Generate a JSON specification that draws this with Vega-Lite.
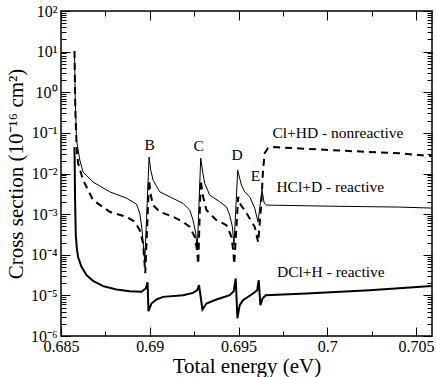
{
  "$schema": "https://vega.github.io/schema/vega-lite/v6.json",
  "width": 371,
  "height": 325,
  "autosize": {"type": "none"},
  "padding": {"left": 61, "top": 11, "right": 4, "bottom": 41},
  "background": "white",
  "config": {
    "view": {"stroke": "black", "strokeWidth": 1.5},
    "axis": {"domain": false, "grid": false, "tickColor": "black", "tickWidth": 1, "labelColor": "black", "titleColor": "black", "labelFont": "Liberation Serif", "titleFont": "Liberation Serif", "titleFontWeight": "normal", "labelFontSize": 16, "titleFontSize": 21, "labelOverlap": false, "labelFlush": false},
    "text": {"font": "Liberation Serif", "fontSize": 15.5, "color": "black"}
  },
  "datasets": {
    "hcl": [
      {"energy": 0.68576, "sigma": 10.3}, {"energy": 0.685805, "sigma": 0.64}, {"energy": 0.685873, "sigma": 0.0665}, {"energy": 0.686059, "sigma": 0.0214}, {"energy": 0.686244, "sigma": 0.0108}, {"energy": 0.686807, "sigma": 0.00614}, {"energy": 0.687748, "sigma": 0.00354}, {"energy": 0.688688, "sigma": 0.00248}, {"energy": 0.689251, "sigma": 0.00176}, {"energy": 0.689437, "sigma": 0.00106}, {"energy": 0.689566, "sigma": 0.000404}, {"energy": 0.689718, "sigma": 0.000066}, {"energy": 0.689961, "sigma": 0.0254}, {"energy": 0.690056, "sigma": 0.0121}, {"energy": 0.690186, "sigma": 0.00688}, {"energy": 0.690563, "sigma": 0.00354}, {"energy": 0.691312, "sigma": 0.00244}, {"energy": 0.691875, "sigma": 0.00184}, {"energy": 0.692252, "sigma": 0.00126}, {"energy": 0.692438, "sigma": 0.000712}, {"energy": 0.69259, "sigma": 0.00034}, {"energy": 0.692675, "sigma": 0.00013}, {"energy": 0.692872, "sigma": 0.0239}, {"energy": 0.692984, "sigma": 0.0108}, {"energy": 0.693097, "sigma": 0.0057}, {"energy": 0.693378, "sigma": 0.00294}, {"energy": 0.693941, "sigma": 0.00201}, {"energy": 0.694319, "sigma": 0.00151}, {"energy": 0.694504, "sigma": 0.000944}, {"energy": 0.694656, "sigma": 0.000486}, {"energy": 0.694746, "sigma": 0.000172}, {"energy": 0.694955, "sigma": 0.0121}, {"energy": 0.695163, "sigma": 0.00518}, {"energy": 0.695349, "sigma": 0.00354}, {"energy": 0.695631, "sigma": 0.00267}, {"energy": 0.695912, "sigma": 0.00141}, {"energy": 0.696098, "sigma": 0.000635}, {"energy": 0.696323, "sigma": 0.0039}, {"energy": 0.696447, "sigma": 0.00187}, {"energy": 0.696588, "sigma": 0.00167}, {"energy": 0.700135, "sigma": 0.00157}, {"energy": 0.704077, "sigma": 0.00149}, {"energy": 0.705879, "sigma": 0.00141}
    ],
    "clhd": [
      {"energy": 0.68576, "sigma": 10.3}, {"energy": 0.685805, "sigma": 0.365}, {"energy": 0.68589, "sigma": 0.0377}, {"energy": 0.685963, "sigma": 0.018}, {"energy": 0.686244, "sigma": 0.00688}, {"energy": 0.686807, "sigma": 0.00221}, {"energy": 0.687748, "sigma": 0.00114}, {"energy": 0.688688, "sigma": 0.000858}, {"energy": 0.689155, "sigma": 0.000646}, {"energy": 0.689437, "sigma": 0.000404}, {"energy": 0.689623, "sigma": 0.000193}, {"energy": 0.689747, "sigma": 0.0000352}, {"energy": 0.689961, "sigma": 0.00688}, {"energy": 0.690056, "sigma": 0.00294}, {"energy": 0.690186, "sigma": 0.00167}, {"energy": 0.690563, "sigma": 0.00114}, {"energy": 0.691312, "sigma": 0.000858}, {"energy": 0.691875, "sigma": 0.000646}, {"energy": 0.692252, "sigma": 0.000486}, {"energy": 0.692534, "sigma": 0.000276}, {"energy": 0.692663, "sigma": 0.00013}, {"energy": 0.692731, "sigma": 0.0000586}, {"energy": 0.692872, "sigma": 0.00688}, {"energy": 0.692984, "sigma": 0.00294}, {"energy": 0.693193, "sigma": 0.00126}, {"energy": 0.693756, "sigma": 0.000712}, {"energy": 0.694319, "sigma": 0.000536}, {"energy": 0.6946, "sigma": 0.000276}, {"energy": 0.694702, "sigma": 0.00013}, {"energy": 0.694758, "sigma": 0.0000586}, {"energy": 0.694983, "sigma": 0.00267}, {"energy": 0.695124, "sigma": 0.00167}, {"energy": 0.695349, "sigma": 0.00126}, {"energy": 0.695631, "sigma": 0.000784}, {"energy": 0.695912, "sigma": 0.000486}, {"energy": 0.696109, "sigma": 0.000204}, {"energy": 0.696289, "sigma": 0.00187}, {"energy": 0.69638, "sigma": 0.0121}, {"energy": 0.696475, "sigma": 0.0318}, {"energy": 0.696661, "sigma": 0.0423}, {"energy": 0.697038, "sigma": 0.0447}, {"energy": 0.700135, "sigma": 0.0377}, {"energy": 0.704077, "sigma": 0.0313}, {"energy": 0.705879, "sigma": 0.0269}
    ],
    "dcl": [
      {"energy": 0.68576, "sigma": 0.0447}, {"energy": 0.685794, "sigma": 0.00221}, {"energy": 0.685833, "sigma": 0.000304}, {"energy": 0.68589, "sigma": 0.000146}, {"energy": 0.685963, "sigma": 0.0000874}, {"energy": 0.686154, "sigma": 0.0000504}, {"energy": 0.686436, "sigma": 0.0000315}, {"energy": 0.686807, "sigma": 0.0000228}, {"energy": 0.68737, "sigma": 0.0000169}, {"energy": 0.688125, "sigma": 0.000014}, {"energy": 0.688874, "sigma": 0.0000127}, {"energy": 0.689533, "sigma": 0.0000123}, {"energy": 0.689775, "sigma": 0.0000148}, {"energy": 0.689876, "sigma": 0.0000211}, {"energy": 0.689927, "sigma": 0.00000408}, {"energy": 0.690096, "sigma": 0.00000631}, {"energy": 0.690377, "sigma": 0.00000792}, {"energy": 0.690749, "sigma": 0.00000919}, {"energy": 0.691875, "sigma": 0.0000101}, {"energy": 0.692438, "sigma": 0.0000115}, {"energy": 0.692675, "sigma": 0.0000134}, {"energy": 0.692776, "sigma": 0.0000178}, {"energy": 0.692967, "sigma": 0.0000045}, {"energy": 0.693193, "sigma": 0.00000631}, {"energy": 0.693756, "sigma": 0.00000792}, {"energy": 0.694504, "sigma": 0.0000101}, {"energy": 0.69473, "sigma": 0.0000127}, {"energy": 0.694842, "sigma": 0.0000261}, {"energy": 0.694938, "sigma": 0.00000274}, {"energy": 0.695068, "sigma": 0.00000574}, {"energy": 0.695253, "sigma": 0.00000762}, {"energy": 0.695816, "sigma": 0.0000111}, {"energy": 0.696053, "sigma": 0.0000134}, {"energy": 0.696137, "sigma": 0.0000237}, {"energy": 0.696233, "sigma": 0.00000574}, {"energy": 0.696362, "sigma": 0.00000853}, {"energy": 0.696531, "sigma": 0.0000101}, {"energy": 0.698823, "sigma": 0.0000111}, {"energy": 0.702387, "sigma": 0.0000134}, {"energy": 0.705879, "sigma": 0.0000169}
    ],
    "letters": [
      {"energy": 0.69, "sigma": 0.0501, "label": "B"},
      {"energy": 0.692759, "sigma": 0.0473, "label": "C"},
      {"energy": 0.694916, "sigma": 0.0284, "label": "D"},
      {"energy": 0.695952, "sigma": 0.00863, "label": "E"}
    ],
    "names": [
      {"energy": 0.696909, "sigma": 0.0989, "label": "Cl+HD - nonreactive"},
      {"energy": 0.697134, "sigma": 0.00455, "label": "HCl+D - reactive"},
      {"energy": 0.697168, "sigma": 0.0000366, "label": "DCl+H - reactive"}
    ]
  },
  "resolve": {"axis": {"x": "independent", "y": "independent"}},
  "layer": [
    {
      "data": {"name": "hcl"},
      "mark": {"type": "line", "color": "black", "strokeWidth": 1, "clip": true},
      "encoding": {
        "x": {"field": "energy", "type": "quantitative", "scale": {"domain": [0.685, 0.7059], "nice": false, "zero": false},
          "axis": {"orient": "bottom", "values": [0.685, 0.69, 0.695, 0.7, 0.705], "ticks": false, "labelPadding": 2, "labelFont": "Liberation Serif", "labelExpr": "toString(datum.value)", "title": "Total energy (eV)", "titleFont": "Liberation Serif", "titlePadding": 1}},
        "y": {"field": "sigma", "type": "quantitative", "scale": {"type": "log", "domain": [0.000001, 100], "nice": false},
          "axis": {"orient": "left", "values": [0.000001, 0.00001, 0.0001, 0.001, 0.01, 0.1, 1, 10, 100], "ticks": false, "labelPadding": 4, "labelFont": "Liberation Serif",
            "labelExpr": "datum.value > 50 ? '10²' : datum.value > 5 ? '10¹' : datum.value > 0.5 ? '10⁰' : datum.value > 0.05 ? '10⁻¹' : datum.value > 0.005 ? '10⁻²' : datum.value > 0.0005 ? '10⁻³' : datum.value > 0.00005 ? '10⁻⁴' : datum.value > 0.000005 ? '10⁻⁵' : '10⁻⁶'",
            "title": "Cross section (10⁻¹⁶ cm²)", "titleFont": "Liberation Serif", "titlePadding": 4}}
      }
    },
    {
      "data": {"name": "clhd"},
      "mark": {"type": "line", "color": "black", "strokeWidth": 2, "strokeDash": [7, 5], "clip": true},
      "encoding": {
        "x": {"field": "energy", "type": "quantitative", "scale": {"domain": [0.685, 0.7059], "nice": false, "zero": false},
          "axis": {"orient": "bottom", "values": [0.685, 0.69, 0.695, 0.7, 0.705], "labels": false, "tickSize": -9, "title": null}},
        "y": {"field": "sigma", "type": "quantitative", "scale": {"type": "log", "domain": [0.000001, 100], "nice": false},
          "axis": {"orient": "left", "values": [0.000001, 0.00001, 0.0001, 0.001, 0.01, 0.1, 1, 10, 100], "labels": false, "tickSize": -9, "title": null}}
      }
    },
    {
      "data": {"name": "dcl"},
      "mark": {"type": "line", "color": "black", "strokeWidth": 2, "clip": true},
      "encoding": {
        "x": {"field": "energy", "type": "quantitative", "scale": {"domain": [0.685, 0.7059], "nice": false, "zero": false},
          "axis": {"orient": "bottom", "values": [0.6875, 0.6925, 0.6975, 0.7025], "labels": false, "tickSize": -5, "title": null}},
        "y": {"field": "sigma", "type": "quantitative", "scale": {"type": "log", "domain": [0.000001, 100], "nice": false},
          "axis": {"orient": "left", "values": [2e-6, 3e-6, 4e-6, 5e-6, 6e-6, 7e-6, 8e-6, 9e-6, 2e-5, 3e-5, 4e-5, 5e-5, 6e-5, 7e-5, 8e-5, 9e-5, 2e-4, 3e-4, 4e-4, 5e-4, 6e-4, 7e-4, 8e-4, 9e-4, 0.002, 0.003, 0.004, 0.005, 0.006, 0.007, 0.008, 0.009, 0.02, 0.03, 0.04, 0.05, 0.06, 0.07, 0.08, 0.09, 0.2, 0.3, 0.4, 0.5, 0.6, 0.7, 0.8, 0.9, 2, 3, 4, 5, 6, 7, 8, 9, 20, 30, 40, 50, 60, 70, 80, 90], "labels": false, "tickSize": -5, "title": null}}
      }
    },
    {
      "data": {"name": "letters"},
      "mark": {"type": "text", "align": "center", "baseline": "middle"},
      "encoding": {
        "x": {"field": "energy", "type": "quantitative", "scale": {"domain": [0.685, 0.7059], "nice": false, "zero": false},
          "axis": {"orient": "top", "values": [0.685, 0.69, 0.695, 0.7, 0.705], "labels": false, "tickSize": -9, "title": null}},
        "y": {"field": "sigma", "type": "quantitative", "scale": {"type": "log", "domain": [0.000001, 100], "nice": false},
          "axis": {"orient": "right", "values": [0.000001, 0.00001, 0.0001, 0.001, 0.01, 0.1, 1, 10, 100], "labels": false, "tickSize": -9, "title": null}},
        "text": {"field": "label"}
      }
    },
    {
      "data": {"name": "names"},
      "mark": {"type": "text", "align": "left", "baseline": "middle"},
      "encoding": {
        "x": {"field": "energy", "type": "quantitative", "scale": {"domain": [0.685, 0.7059], "nice": false, "zero": false},
          "axis": {"orient": "top", "values": [0.6875, 0.6925, 0.6975, 0.7025], "labels": false, "tickSize": -5, "title": null}},
        "y": {"field": "sigma", "type": "quantitative", "scale": {"type": "log", "domain": [0.000001, 100], "nice": false},
          "axis": {"orient": "right", "values": [2e-6, 3e-6, 4e-6, 5e-6, 6e-6, 7e-6, 8e-6, 9e-6, 2e-5, 3e-5, 4e-5, 5e-5, 6e-5, 7e-5, 8e-5, 9e-5, 2e-4, 3e-4, 4e-4, 5e-4, 6e-4, 7e-4, 8e-4, 9e-4, 0.002, 0.003, 0.004, 0.005, 0.006, 0.007, 0.008, 0.009, 0.02, 0.03, 0.04, 0.05, 0.06, 0.07, 0.08, 0.09, 0.2, 0.3, 0.4, 0.5, 0.6, 0.7, 0.8, 0.9, 2, 3, 4, 5, 6, 7, 8, 9, 20, 30, 40, 50, 60, 70, 80, 90], "labels": false, "tickSize": -5, "title": null}},
        "text": {"field": "label"}
      }
    }
  ]
}
